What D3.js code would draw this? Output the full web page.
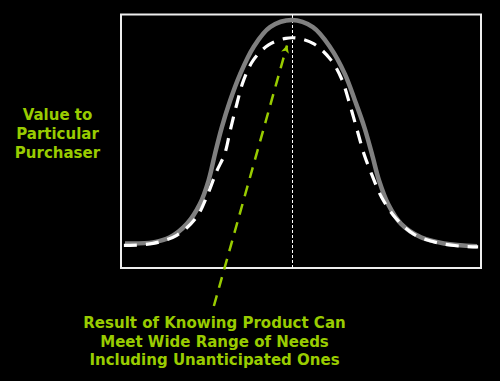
<!DOCTYPE html>
<html><head><meta charset="utf-8">
<script src="https://cdn.jsdelivr.net/npm/d3@7"></script>
<style>html,body{margin:0;padding:0;background:#000;}svg{display:block;}</style>
</head><body>
<script>
// Data (conceptual units 0-100)
const baseCurve = [
  [1.1, 9.7],[8.9, 10.1],[13.6, 12.1],[18.3, 17.4],[21.9, 25.2],[24.3, 34.4],[26.1, 45.0],
  [28.0, 55.5],[30.3, 66.0],[33.1, 76.5],[36.8, 87.1],[41.4, 95.0],[47.5, 97.8],
  [53.3, 95.0],[58.1, 87.1],[62.2, 76.5],[65.0, 66.0],[67.6, 55.5],[69.7, 45.0],[71.7, 34.4],
  [74.2, 25.2],[77.8, 17.4],[83.3, 12.1],[89.7, 9.7],[98.9, 8.6]
];
const knowingCurve = [
  [0.8, 8.9],[8.9, 9.7],[15.6, 13.0],[21.0, 20.1],[23.9, 28.4],[26.5, 37.9],[28.8, 45.0],
  [30.3, 54.0],[32.1, 64.3],[34.0, 73.8],[36.8, 82.1],[41.0, 88.0],[45.8, 90.6],[49.2, 90.6],
  [53.6, 88.4],[58.3, 82.1],[61.4, 74.2],[63.6, 64.3],[65.6, 54.4],[67.5, 45.0],[69.7, 36.7],
  [72.5, 27.6],[76.3, 19.7],[81.3, 13.4],[87.8, 10.0],[94.4, 8.6],[99.2, 8.3]
];
const peakX = [47.6];
const arrowPoints = [[25.8, -15.0],[46.1, 87.7]];
const yLabelLines = ["Value to", "Particular", "Purchaser"];
const noteLines = ["Result of Knowing Product Can", "Meet Wide Range of Needs", "Including Unanticipated Ones"];

const W = 500, H = 381;
const frame = {left: 121, top: 14.5, right: 481, bottom: 268};
const green = "#99cc00";

const svg = d3.select("body").append("svg").attr("width", W).attr("height", H)
  .style("background", "#000");

const x = d3.scaleLinear().domain([0, 100]).range([frame.left, frame.right]);
const y = d3.scaleLinear().domain([0, 100]).range([frame.bottom, frame.top]);

svg.append("defs").append("marker")
  .attr("id", "ah").attr("viewBox", "0 0 10 10").attr("refX", 9).attr("refY", 5)
  .attr("markerUnits", "userSpaceOnUse").attr("markerWidth", 10).attr("markerHeight", 8)
  .attr("orient", "auto")
  .append("path").attr("d", "M0,0 L10,5 L0,10 L2.5,5 Z").attr("fill", green);

// frame
svg.append("rect")
  .attr("x", x(0)).attr("y", y(100))
  .attr("width", x(100) - x(0)).attr("height", y(0) - y(100))
  .attr("fill", "none").attr("stroke", "#eeeeee").attr("stroke-width", 2);

// vertical dotted line at peak
svg.selectAll(".vline").data(peakX).join("line")
  .attr("x1", d => x(d)).attr("x2", d => x(d))
  .attr("y1", y(100)).attr("y2", y(0))
  .attr("stroke", "#ffffff").attr("stroke-width", 1).attr("stroke-dasharray", "3,2")
  .attr("shape-rendering", "crispEdges");

const line = d3.line().x(d => x(d[0])).y(d => y(d[1])).curve(d3.curveCatmullRom.alpha(0.5));

svg.append("path").datum(baseCurve).attr("d", line)
  .attr("fill", "none").attr("stroke", "#808080").attr("stroke-width", 4.5);

svg.append("path").datum(knowingCurve).attr("d", line)
  .attr("fill", "none").attr("stroke", "#ffffff").attr("stroke-width", 3.2)
  .attr("stroke-dasharray", "13,9");

// arrow
svg.append("path").datum(arrowPoints).attr("d", d3.line().x(d => x(d[0])).y(d => y(d[1])))
  .attr("fill", "none").attr("stroke", green).attr("stroke-width", 2.5)
  .attr("stroke-dasharray", "11,8").attr("marker-end", "url(#ah)");

// left label
svg.append("text")
  .attr("font-family", "DejaVu Sans, Verdana, sans-serif").attr("font-weight", "bold")
  .attr("font-size", 15).attr("fill", green).attr("text-anchor", "middle")
  .selectAll("tspan").data(yLabelLines).join("tspan")
  .attr("x", 57.5).attr("y", (d, i) => 120 + i * 19).text(d => d);

// note
svg.append("text")
  .attr("font-family", "DejaVu Sans, Verdana, sans-serif").attr("font-weight", "bold")
  .attr("font-size", 15).attr("fill", green).attr("text-anchor", "middle")
  .selectAll("tspan").data(noteLines).join("tspan")
  .attr("x", 214.5).attr("y", (d, i) => 328 + i * 18.5).text(d => d);
</script>
</body></html>
